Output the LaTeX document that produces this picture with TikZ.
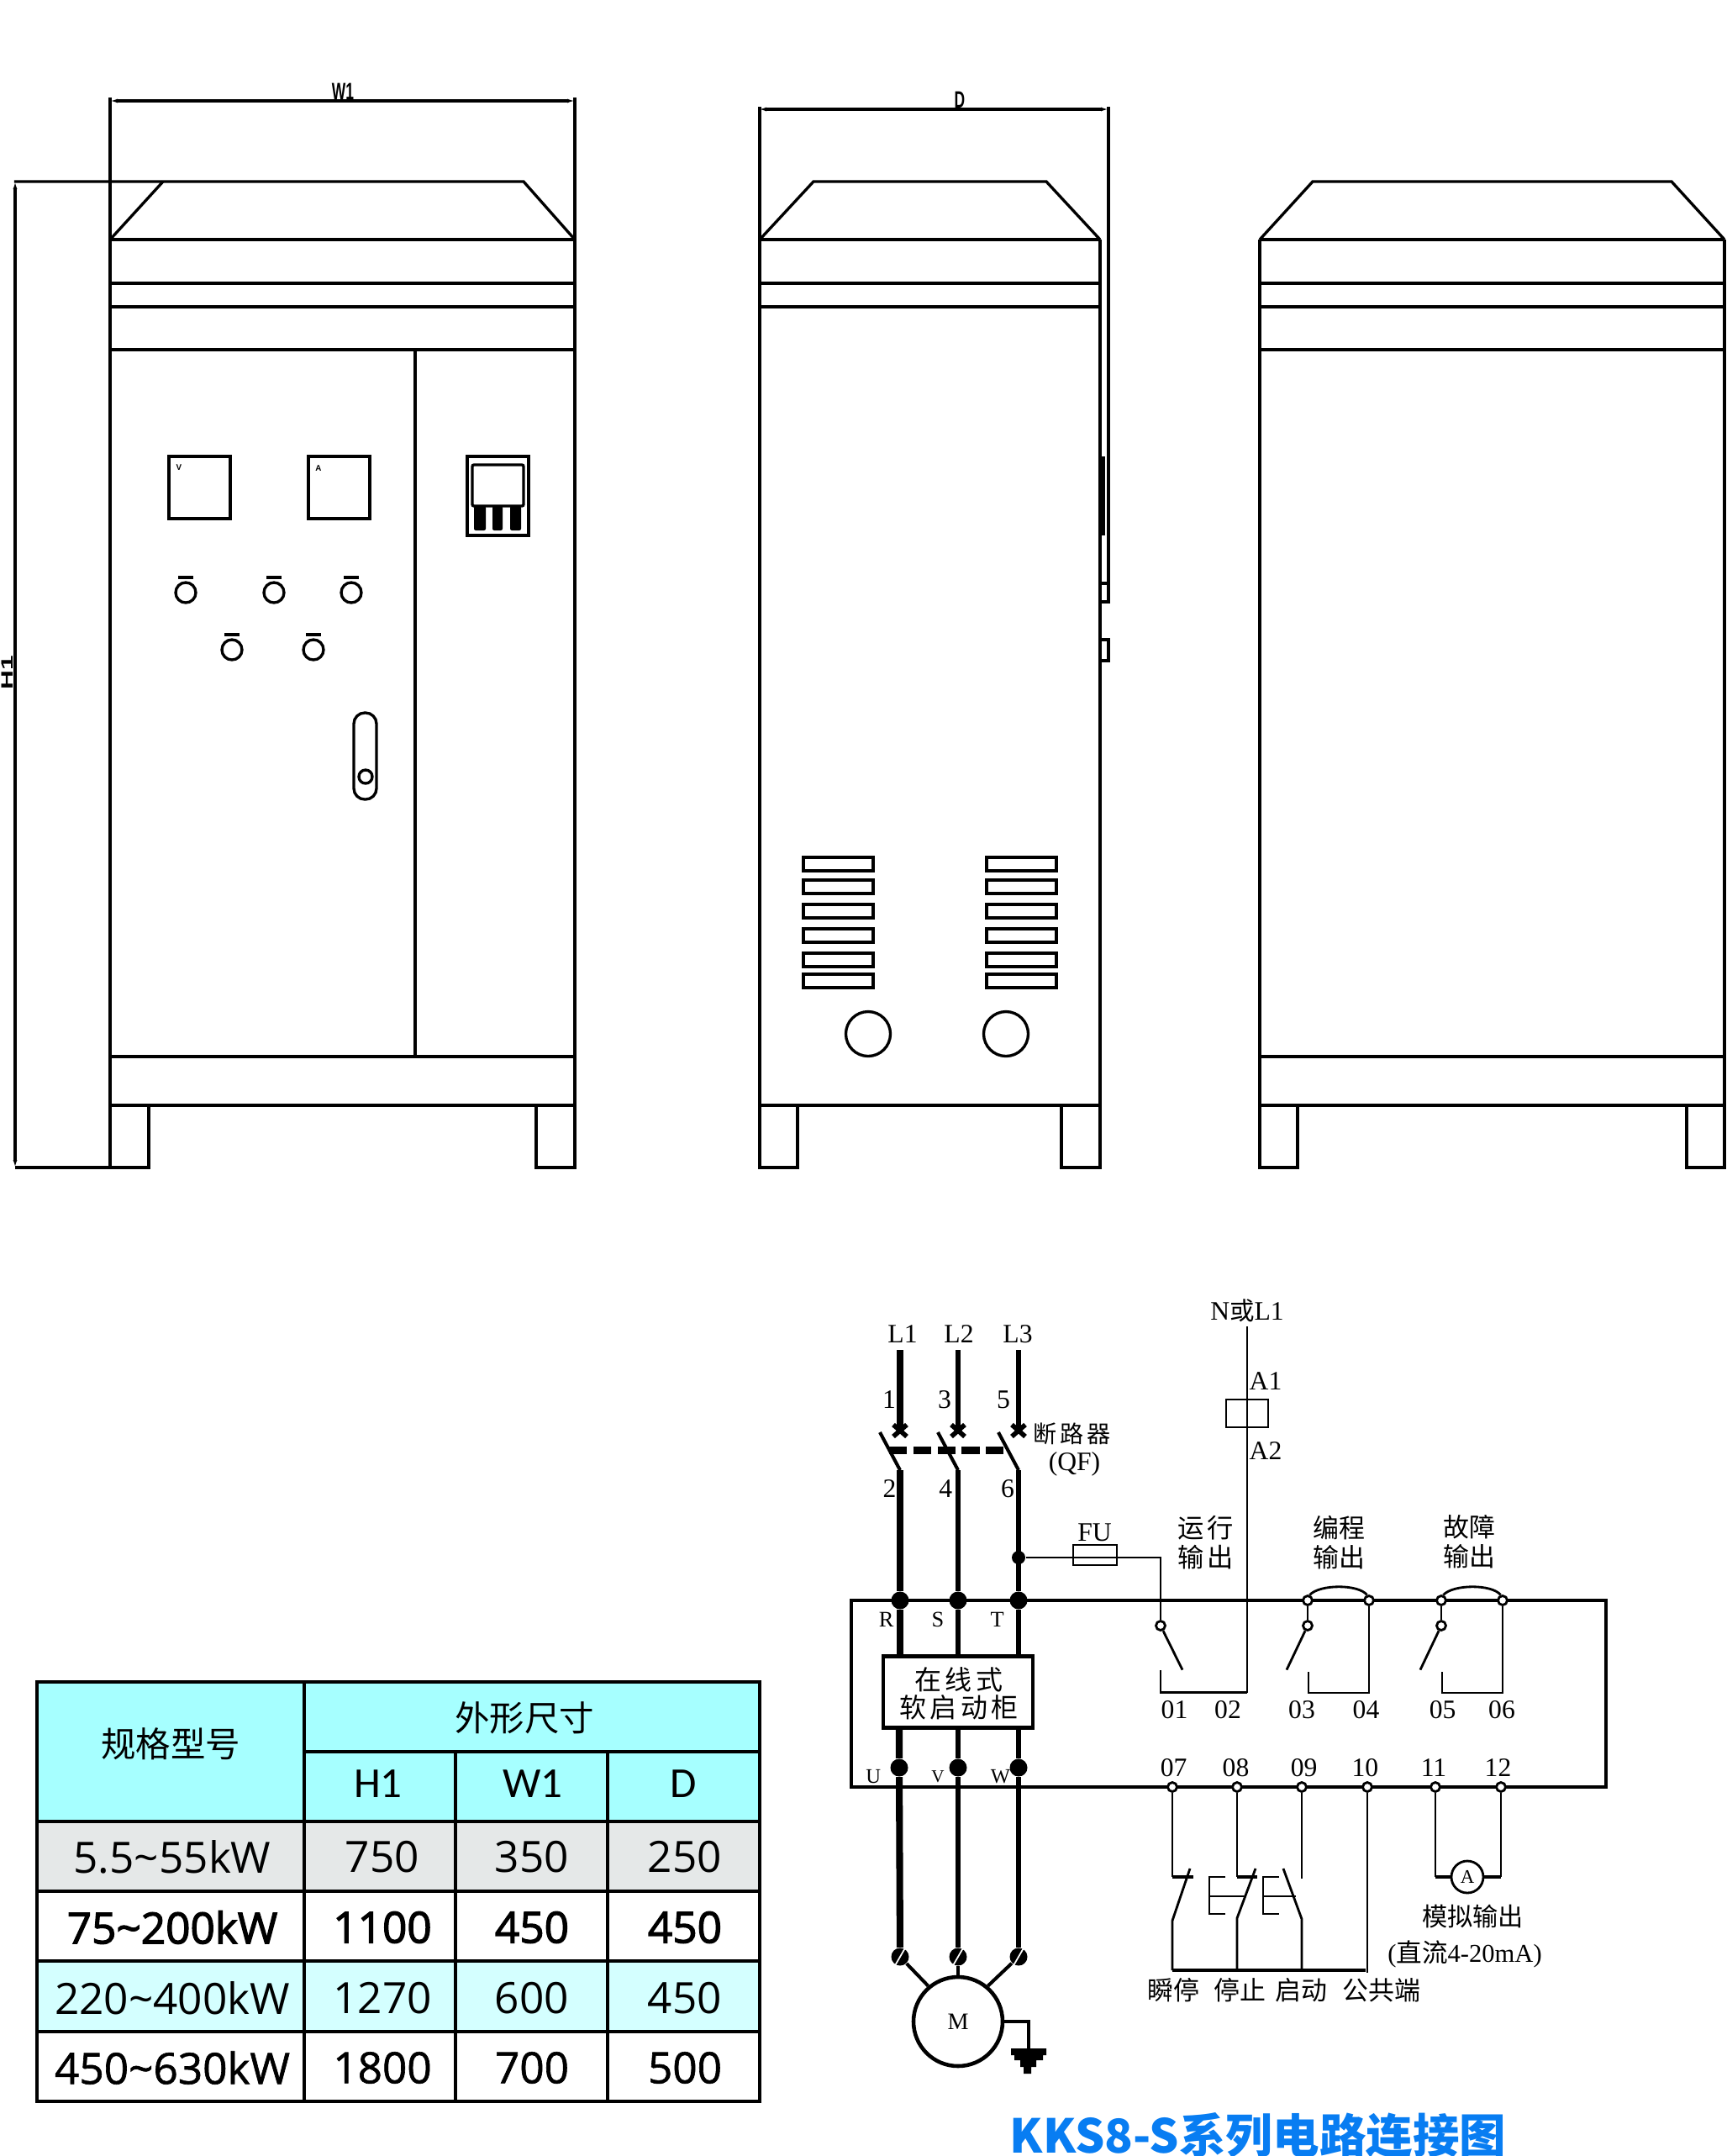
\documentclass[tikz,border=0pt]{standalone}
\usepackage{fontspec}
\setmainfont{Liberation Serif}
\newfontfamily\cjk{Noto Sans CJK SC}
\newfontfamily\cjkwide[LetterSpace=14]{Noto Sans CJK SC}
\newfontfamily\tabfont{Open Sans}
\newfontfamily\tabmid[FakeBold=1.2]{Open Sans}
\newfontfamily\tabsemi[FakeBold=2.4]{Open Sans}
\newfontfamily\headfont{Carlito}
\newfontfamily\dimfont{Liberation Sans}
\usetikzlibrary{arrows.meta}
\usetikzlibrary{positioning}
\tikzset{cab/.style = {line width = 0.95pt}}
\tikzset{thin box/.style = {line width = 0.95pt}}
\tikzset{dimarrow/.style = {<->, >={Latex[length = 0.09cm, width = 0.05cm]}}}
\tikzset{wire/.style = {line width = 0.8pt}}
\tikzset{phase/.style = {line width = 2.3pt}}
\tikzset{phasb/.style = {line width = 1.85pt}}
\tikzset{blade/.style = {line width = 1.15pt}}
\tikzset{tdot/.style = {draw, fill = white, circle, inner sep = 0, minimum size = 0.11cm, line width = 0.8pt}}
\tikzset{bdot/.style = {fill, circle, inner sep = 0, minimum size = 0.21cm}}
\tikzset{lab/.style = {inner sep = 0, font = \fontsize{9}{10}\selectfont}}
\tikzset{zh/.style = {inner sep = 0, font = \cjk\fontsize{8.8}{11}\selectfont}}
\tikzset{zhw/.style = {inner sep = 0, font = \cjkwide\fontsize{8}{10}\selectfont}}
\tikzset{dimlab/.style = {inner sep = 0, font = \dimfont\bfseries\fontsize{8}{8}\selectfont, xscale = 0.62, transform shape}}
\tikzset{cell/.style = {inner sep = 0, font = \tabfont\fontsize{14.6}{16}\selectfont}}
\tikzset{cellm/.style = {inner sep = 0, font = \tabmid\fontsize{14.6}{16}\selectfont}}
\tikzset{cellb/.style = {inner sep = 0, font = \tabsemi\fontsize{14.6}{16}\selectfont}}
\tikzset{chead/.style = {inner sep = 0, font = \cjk\fontsize{11.8}{14}\selectfont}}
\tikzset{lhead/.style = {inner sep = 0, font = \headfont\fontsize{14.5}{16}\selectfont}}
\definecolor{mcyan}{rgb}{0.65, 1, 1}
\definecolor{mpale}{rgb}{0.83, 1, 1}
\definecolor{mgrey}{rgb}{0.9, 0.91, 0.91}
\definecolor{mtitle}{rgb}{0.03, 0.49, 0.95}
\begin{document}
\begin{tikzpicture}[y = -1cm]
      \useasboundingbox (0, 0) rectangle (20.55, 25.65);

      % front view
      \draw [cab, dimarrow] (1.31, 1.2) -- (6.84, 1.2);
      \draw [cab] (1.31, 1.16) -- (1.31, 13.89) -- (1.77, 13.89) -- (1.77, 13.15);
      \draw [cab] (6.84, 1.16) -- (6.84, 13.89) -- (6.38, 13.89) -- (6.38, 13.15);
      \draw [cab] (0.17, 2.16) -- (6.23, 2.16) -- (6.84, 2.85);
      \draw [cab] (1.31, 2.85) -- (1.94, 2.16);
      \foreach \y in {2.85, 3.37, 3.65, 4.16, 12.57, 13.15}
        \draw [cab] (1.31, \y) -- (6.84, \y);
      \draw [cab] (4.94, 4.16) -- (4.94, 12.57);
      \draw [cab, dimarrow] (0.18, 2.16) -- (0.18, 13.89);
      \draw [cab] (0.18, 13.89) -- (1.31, 13.89);
      \node [dimlab] (dimw) at (4.08, 1.09) {W1};
      \node [dimlab, rotate = 90, font = \dimfont\bfseries\fontsize{9}{9}\selectfont] (dimh) at (0.09, 8.0) {H1};

      \draw [thin box] (2.01, 5.43) rectangle (2.74, 6.17);
      \draw [thin box] (3.67, 5.43) rectangle (4.4, 6.17);
      \node [inner sep = 0, font = \dimfont\bfseries\fontsize{2.8}{3}\selectfont] (mv) at (2.13, 5.56) {V};
      \node [inner sep = 0, font = \dimfont\bfseries\fontsize{2.8}{3}\selectfont] (ma) at (3.79, 5.57) {A};
      \draw [thin box] (5.56, 5.43) rectangle (6.29, 6.37);
      \draw [thin box, rounded corners = 0.02cm] (5.62, 5.53) rectangle (6.23, 6.02);
      \foreach \x/\w in {5.64/0.14, 5.86/0.12, 6.07/0.13}
        \fill [rounded corners = 0.02cm] (\x, 6.02) rectangle +(\w, 0.29);
      \foreach \x/\y in {2.21/7.05, 3.26/7.05, 4.18/7.05, 2.76/7.73, 3.73/7.73} {
        \draw [thin box] (\x, \y) circle (0.12);
        \fill (\x - 0.09, \y - 0.2) rectangle +(0.18, 0.035);
      }
      \draw [thin box, rounded corners = 0.13cm] (4.21, 8.48) rectangle (4.48, 9.51);
      \draw [thin box] (4.35, 9.24) circle (0.08);

      % side view
      \draw [cab, dimarrow] (9.03, 1.3) -- (13.19, 1.3);
      \draw [cab] (9.04, 1.27) -- (9.04, 13.89) -- (9.49, 13.89) -- (9.49, 13.15);
      \draw [cab] (13.09, 2.85) -- (13.09, 13.89) -- (12.63, 13.89) -- (12.63, 13.15);
      \draw [cab] (9.04, 2.85) -- (9.68, 2.16) -- (12.45, 2.16) -- (13.09, 2.85);
      \foreach \y in {2.85, 3.37, 3.65, 13.15}
        \draw [cab] (9.04, \y) -- (13.09, \y);
      \draw [cab] (13.19, 1.27) -- (13.19, 7.16) -- (13.09, 7.16);
      \draw [cab] (13.09, 6.94) -- (13.19, 6.94);
      \draw [cab] (13.09, 7.61) rectangle (13.19, 7.86);
      \fill (13.1, 5.43) rectangle (13.15, 6.37);
      \node [dimlab] (dimd) at (11.42, 1.19) {D};
      \foreach \y in {10.2, 10.47, 10.76, 11.05, 11.34, 11.59} {
        \draw [thin box] (9.56, \y) rectangle +(0.83, 0.16);
        \draw [thin box] (11.74, \y) rectangle +(0.83, 0.16);
      }
      \draw [thin box] (10.33, 12.3) circle (0.265);
      \draw [thin box] (11.97, 12.3) circle (0.265);

      % rear view
      \draw [cab] (14.99, 2.85) -- (14.99, 13.89) -- (15.44, 13.89) -- (15.44, 13.15);
      \draw [cab] (20.52, 2.85) -- (20.52, 13.89) -- (20.07, 13.89) -- (20.07, 13.15);
      \draw [cab] (14.99, 2.85) -- (15.62, 2.16) -- (19.89, 2.16) -- (20.52, 2.85);
      \foreach \y in {2.85, 3.37, 3.65, 4.16, 12.57, 13.15}
        \draw [cab] (14.99, \y) -- (20.52, \y);

      % table
      \fill [mcyan] (0.44, 20.01) rectangle (9.04, 21.67);
      \fill [mgrey] (0.44, 21.67) rectangle (9.04, 22.5);
      \fill [mpale] (0.44, 23.33) rectangle (9.04, 24.17);
      \draw [cab] (0.44, 20.01) rectangle (9.04, 25);
      \foreach \y in {21.67, 22.5, 23.33, 24.17}
        \draw [thin box] (0.44, \y) -- (9.04, \y);
      \draw [thin box] (3.62, 20.84) -- (9.04, 20.84);
      \draw [thin box] (3.62, 20.01) -- (3.62, 25);
      \draw [thin box] (5.42, 20.84) -- (5.42, 25);
      \draw [thin box] (7.23, 20.84) -- (7.23, 25);
      \node [chead] (hmodel) at (2.03, 20.75) {规格型号};
      \node [chead] (hsize) at (6.24, 20.44) {外形尺寸};
      \node [lhead] (hh) at (4.5, 21.22) {H1};
      \node [lhead] (hw) at (6.34, 21.22) {W1};
      \node [lhead] (hd) at (8.13, 21.22) {D};
      \foreach \n/\y/\s/\a/\b/\c/\d in {a/22.09/cell/5.5\textasciitilde55kW/750/350/250,
                                        b/22.93/cellb/75\textasciitilde200kW/1100/450/450,
                                        c/23.77/cell/220\textasciitilde400kW/1270/600/450,
                                        e/24.6/cellm/450\textasciitilde630kW/1800/700/500} {
        \node [\s] (m\n) at (2.05, \y) {\a};
        \node [\s] (h\n) at (4.55, \y) {\b};
        \node [\s] (w\n) at (6.33, \y) {\c};
        \node [\s] (d\n) at (8.15, \y) {\d};
      }

      % circuit: frame, then terminals on top of it
      \draw [cab] (10.13, 19.04) rectangle (19.11, 21.26);
      \node [bdot] (dr) at (10.71, 19.04) {};
      \node [bdot] (ds) at (11.4, 19.04) {};
      \node [bdot] (dt) at (12.12, 19.04) {};
      \node [bdot] (du) at (10.7, 21.03) {};
      \node [bdot] (dv) at (11.4, 21.03) {};
      \node [bdot] (dw) at (12.12, 21.03) {};
      \node [bdot, minimum size = 0.16cm] (dfu) at (12.12, 18.53) {};
      \node [bdot] (mta) at (10.71, 23.28) {};
      \node [bdot] (mtb) at (11.4, 23.28) {};
      \node [bdot] (mtc) at (12.12, 23.28) {};
      \foreach \n in {mta, mtb, mtc}
        \draw [white, line width = 0.5pt] (\n.240) -- (\n.60);
      \foreach \n/\x in {03/15.56, 04/16.29, 05/17.15, 06/17.88}
        \node [tdot] (t\n) at (\x, 19.04) {};
      \node [tdot] (sw1) at (13.81, 19.34) {};
      \node [tdot] (sw2) at (15.56, 19.34) {};
      \node [tdot] (sw3) at (17.15, 19.34) {};
      \foreach \n/\x in {07/13.95, 08/14.72, 09/15.49, 10/16.27, 11/17.08, 12/17.86}
        \node [tdot] (t\n) at (\x, 21.26) {};

      % breaker and mains
      \coordinate (ca) at (10.71, 16.06);
      \coordinate (cb) at (11.4, 16.06);
      \coordinate (cc) at (12.12, 16.06);
      \coordinate (xa) at (10.71, 17.02);
      \coordinate (xb) at (11.4, 17.02);
      \coordinate (xc) at (12.12, 17.02);
      \coordinate (ka) at (10.71, 17.49);
      \coordinate (kb) at (11.4, 17.49);
      \coordinate (kc) at (12.12, 17.49);
      \draw [phase] (ca) -- (xa);
      \draw [phasb] (cb) -- (xb);
      \draw [phasb] (cc) -- (xc);
      \foreach \n in {xa, xb, xc} {
        \draw [line width = 1.6pt] (\n) +(-0.08, -0.07) -- +(0.08, 0.07);
        \draw [line width = 1.6pt] (\n) +(-0.08, 0.07) -- +(0.08, -0.07);
      }
      \draw [blade] (ka) -- ++(-0.24, -0.45);
      \draw [blade] (kb) -- ++(-0.24, -0.45);
      \draw [blade] (kc) -- ++(-0.24, -0.45);
      \draw [phase, dash pattern = on 6pt off 2.2pt] (10.58, 17.255) -- (11.98, 17.255);
      \draw [phase] (ka) -- (dr);
      \draw [phasb] (kb) -- (ds);
      \draw [phasb] (kc) -- (dt);

      \node [draw, fill = white, line width = 1.4pt, minimum width = 1.78cm, minimum height = 0.85cm,
             inner sep = 0] (soft) at (11.4, 20.13) {};
      \node [zhw, font = \cjkwide\fontsize{9.1}{10}\selectfont] (softa) at (11.41, 19.98) {在线式};
      \node [zhw, font = \cjkwide\fontsize{9.1}{10}\selectfont] (softb) at (11.41, 20.31) {软启动柜};
      \draw [phase] (dr) -- (dr |- soft.north);
      \draw [phasb] (ds) -- (ds |- soft.north);
      \draw [phasb] (dt) -- (dt |- soft.north);
      \draw [phase] (du |- soft.south) -- (du) -- (mta);
      \draw [phasb] (dv |- soft.south) -- (dv) -- (mtb);
      \draw [phasb] (dw |- soft.south) -- (dw) -- (mtc);

      % motor and earth
      \node [draw, circle, line width = 1.3pt, minimum size = 1.06cm, inner sep = 0,
             font = \fontsize{8}{9}\selectfont] (mot) at (11.4, 24.05) {M};
      \draw [blade] (mta) -- (mot.130);
      \draw [blade] (mtb) -- (mot.north);
      \draw [blade] (mtc) -- (mot.50);
      \coordinate (gnd) at (12.24, 24.37);
      \draw [line width = 1.3pt] (mot.east) -| (gnd);
      \fill (12.03, 24.37) -- (12.45, 24.37) -- (12.45, 24.45) -- (12.41, 24.45) -- (12.41, 24.51)
        -- (12.33, 24.51) -- (12.33, 24.59) -- (12.27, 24.59) -- (12.27, 24.67) -- (12.18, 24.67)
        -- (12.18, 24.59) -- (12.14, 24.59) -- (12.14, 24.51) -- (12.07, 24.51) -- (12.07, 24.45)
        -- (12.03, 24.45) -- cycle;

      % fuse and run output
      \coordinate (fubend) at (13.81, 18.51);
      \draw [wire] (dfu) -- (fubend |- dfu) -- (sw1);
      \node [draw, wire, minimum width = 0.52cm, minimum height = 0.24cm, inner sep = 0] (fuse) at (13.03, 18.5) {};
      \draw [wire] (sw1) -- (14.07, 19.866);
      \coordinate (r01) at (13.81, 19.874);
      \coordinate (r02) at (14.84, 20.135);
      \draw [wire] (r01) |- (r02);
      \node [lab] (nl) at (14.84, 15.59) {N{\cjk\fontsize{8.4}{9}\selectfont 或}L1};
      \draw [wire] (nl.south) ++(0, 0.05) -- (r02);
      \node [draw, wire, minimum width = 0.5cm, minimum height = 0.33cm, inner sep = 0] (coil) at (14.84, 16.815) {};

      % relay outputs
      \draw [wire] (t03) -- (sw2);
      \draw [wire] (t05) -- (sw3);
      \draw [wire] (sw2) -- (15.31, 19.866);
      \draw [wire] (sw3) -- (16.9, 19.866);
      \coordinate (r03) at (15.57, 19.89);
      \coordinate (r05) at (17.16, 19.89);
      \draw [wire] (r03) |- (16.29, 20.14) -- (t04);
      \draw [wire] (r05) |- (17.88, 20.14) -- (t06);
      \draw [wire] (t03.70) .. controls +(0.12, -0.13) and +(-0.1, -0.13) .. (t04.110);
      \draw [wire] (t05.70) .. controls +(0.12, -0.13) and +(-0.1, -0.13) .. (t06.110);

      % control buttons
      \coordinate (bus) at (13.95, 23.44);
      \coordinate (bend) at (16.25, 23.44);
      \draw [wire] (t07) -- (13.95, 22.33);
      \draw [blade] (13.95, 22.33) -- (14.2, 22.33);
      \draw [wire] (14.16, 22.23) -- (13.95, 22.85) -- (bus);
      \draw [blade] (bus) -- (bend);
      \draw [wire] (t08) -- (14.72, 22.33);
      \draw [blade] (14.72, 22.33) -- (14.96, 22.33);
      \draw [wire] (14.94, 22.23) -- (14.72, 22.82) -- (14.72 , 23.44);
      \draw [wire] (t09) -- (15.49, 22.35);
      \draw [wire] (15.27, 22.23) -- (15.49, 22.83) -- (15.49, 23.44);
      \draw [wire] (t10) -- (16.27, 23.47);
      \draw [wire] (14.58, 22.33) -- (14.39, 22.33) -- (14.39, 22.77) -- (14.58, 22.77);
      \draw [wire] (14.39, 22.56) -- (14.82, 22.56);
      \draw [wire] (15.22, 22.33) -- (15.03, 22.33) -- (15.03, 22.77) -- (15.22, 22.77);
      \draw [wire] (15.03, 22.56) -- (15.42, 22.56);

      % analogue output
      \node [draw, circle, wire, minimum size = 0.38cm, inner sep = 0, font = \fontsize{6.5}{7}\selectfont] (amm) at (17.46, 22.33) {A};
      \draw [wire] (t11) -- (17.08, 22.33);
      \draw [blade] (17.08, 22.33) -- (amm.west);
      \draw [wire] (t12) -- (17.86, 22.33);
      \draw [blade] (17.86, 22.33) -- (amm.east);

      % circuit labels
      \node [lab] (ll1) at (10.74, 15.87) {L1};
      \node [lab] (ll2) at (11.41, 15.87) {L2};
      \node [lab] (ll3) at (12.11, 15.87) {L3};
      \node [lab] (p1) at (10.58, 16.655) {1};
      \node [lab] (p3) at (11.24, 16.655) {3};
      \node [lab] (p5) at (11.94, 16.655) {5};
      \node [lab] (p2) at (10.585, 17.71) {2};
      \node [lab] (p4) at (11.254, 17.71) {4};
      \node [lab] (p6) at (11.99, 17.71) {6};
      \node [zhw] (qf) at (12.754, 17.06) {断路器};
      \node [lab] (qfb) at (12.785, 17.42) {(QF)};
      \node [lab] (fu) at (13.026, 18.237) {FU};
      \node [lab, font = \fontsize{7.5}{9}\selectfont] (lr) at (10.546, 19.27) {R};
      \node [lab, font = \fontsize{7.5}{9}\selectfont] (ls) at (11.159, 19.27) {S};
      \node [lab, font = \fontsize{7.5}{9}\selectfont] (lt) at (11.867, 19.27) {T};
      \node [lab, font = \fontsize{7}{9}\selectfont] (lu) at (10.393, 21.14) {U};
      \node [lab, font = \fontsize{6}{9}\selectfont] (lv) at (11.159, 21.14) {V};
      \node [lab, font = \fontsize{7}{9}\selectfont] (lw) at (11.905, 21.14) {W};
      \node [lab] (la1) at (15.06, 16.434) {A1};
      \node [lab] (la2) at (15.06, 17.256) {A2};
      \node [zhw, align = center, font = \cjkwide\fontsize{8.9}{10}\selectfont] (run) at (14.345, 18.35) {运行\\输出};
      \node [zh, align = center, font = \cjk\fontsize{8.8}{10}\selectfont] (prog) at (15.93, 18.35) {编程\\输出};
      \node [zh, align = center, font = \cjk\fontsize{8.8}{10}\selectfont] (fault) at (17.48, 18.34) {故障\\输出};
      \foreach \n/\x in {01/13.975, 02/14.61, 03/15.49, 04/16.255, 05/17.166, 06/17.87}
        \node [lab] (n\n) at (\x, 20.34) {\n};
      \foreach \n/\x in {07/13.967, 08/14.705, 09/15.517, 10/16.244, 11/17.06, 12/17.825}
        \node [lab] (n\n) at (\x, 21.03) {\n};
      \node [zh, font = \cjk\fontsize{8.6}{10}\selectfont] (lana) at (17.525, 22.8) {模拟输出};
      \node [lab, font = \fontsize{8.7}{10}\selectfont] (lrng) at (17.43, 23.25) {({\cjk 直流}4-20mA)};
      \node [zh] (ba) at (13.967, 23.68) {瞬停};
      \node [zh] (bb) at (14.75, 23.68) {停止};
      \node [zh] (bc) at (15.485, 23.68) {启动};
      \node [zh] (bd) at (16.44, 23.68) {公共端};

      \node [inner sep = 0, text = mtitle, font = \cjk\bfseries\fontsize{15.8}{18}\selectfont] (ttl) at (14.97, 25.4) {KKS8-S系列电路连接图};
    \end{tikzpicture}
\end{document}
